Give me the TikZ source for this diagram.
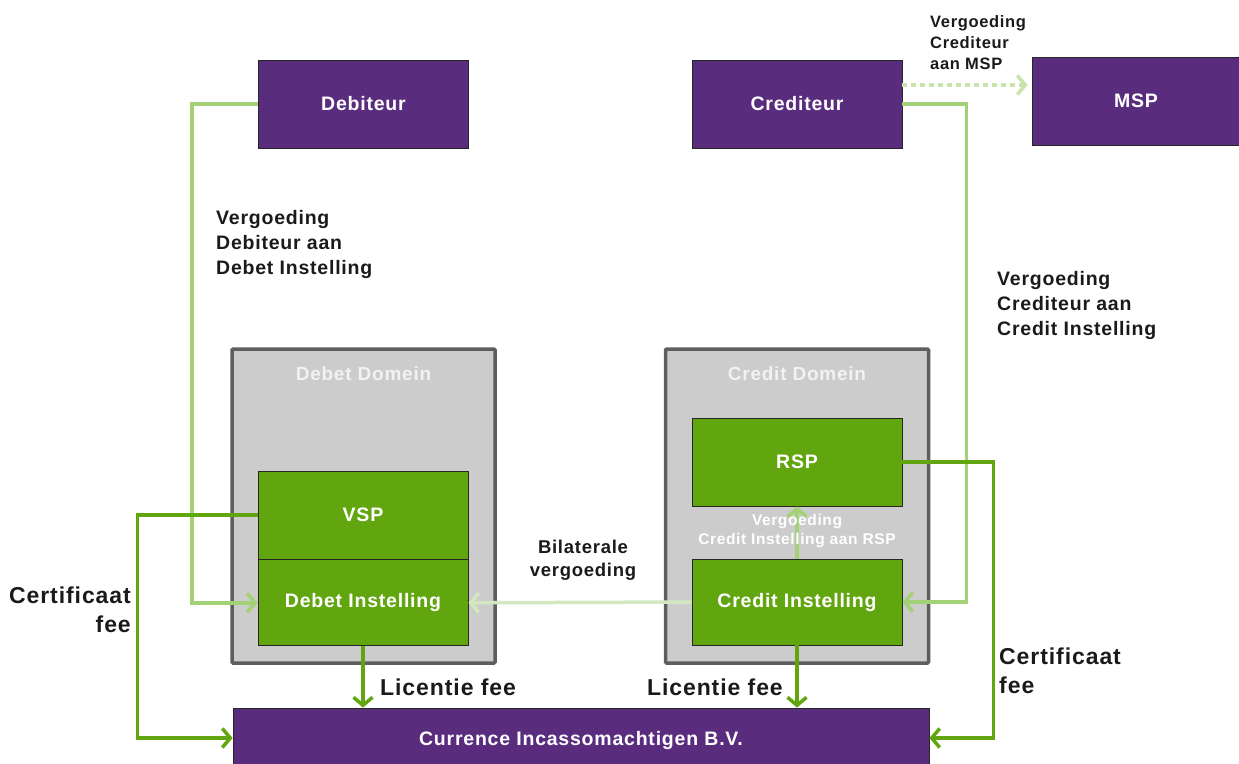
\documentclass[tikz,border=0pt]{standalone}
\usepackage{fontspec}
\setmainfont[LetterSpace=4.0]{Liberation Sans}
\usetikzlibrary{arrows.meta,positioning}
\definecolor{paars}{HTML}{5A2C7E}
\definecolor{donkergroen}{HTML}{62A60F}
\definecolor{lichtgroen}{HTML}{A3D176}
\definecolor{bleekgroen}{HTML}{D3E8C1}
\definecolor{stippelgroen}{HTML}{C9E3AD}
\definecolor{domeingrijs}{HTML}{CCCCCC}
\definecolor{randgrijs}{HTML}{5E5E5E}
\definecolor{tekst}{HTML}{1A1A1A}
\tikzset{
  partij/.style={draw=black!85, line width=0.8pt, fill=paars, text=white, inner sep=0pt,
    font=\bfseries\fontsize{19.5}{23}\selectfont, minimum width=210pt, minimum height=88pt},
  instelling/.style={partij, fill=donkergroen},
  domein/.style={draw=randgrijs, line width=3.5pt, fill=domeingrijs, rounded corners=1pt,
    minimum width=263pt, minimum height=314pt},
  domeinnaam/.style={text=white!95!black, inner sep=0pt, anchor=north,
    font=\bfseries\fontsize{19}{23}\selectfont},
  pijl/.style={line width=3.5pt, -{Straight Barb[length=8pt,width=19pt]}},
  licht/.style={pijl, draw=lichtgroen},
  donker/.style={pijl, draw=donkergroen},
  uitleg/.style={text=tekst, inner sep=0pt, font=\bfseries\fontsize{19.5}{25}\selectfont},
  groot/.style={text=tekst, inner sep=0pt, font=\bfseries\fontsize{23}{29}\selectfont}
}
\begin{document}
\begin{tikzpicture}[x=1pt,y=-1pt]
\useasboundingbox (0,0) rectangle (1239,763);
\node[domein] (debdom) at (363.5,506) {};
\node[domein] (creddom) at (797,506) {};
\node[domeinnaam] at (363.5,367) {Debet Domein};
\node[domeinnaam] at (797,367) {Credit Domein};
\node[partij] (deb) at (363.5,104) {Debiteur};
\node[partij] (cred) at (797,104) {Crediteur};
\node[partij, minimum width=214pt] (msp) at (1139,101) {\hspace*{-6pt}MSP};
\node[instelling] (vsp) at (363,515) {VSP};
\node[instelling, minimum height=86pt, below=0pt of vsp] (debinst) {Debet Instelling};
\node[instelling] (rsp) at (797,462) {RSP};
\node[instelling, minimum height=86pt] (credinst) at (797,602) {Credit Instelling};
\node[partij, minimum width=696pt, minimum height=64pt] (curr) at (581,740)
  {\raisebox{2pt}{\fontsize{19.5}{22}\selectfont Currence Incassomachtigen B.V.}};
\draw[licht] (deb.west) -- ++(-66,0) |- (debinst.west);
\draw[licht] (cred.east) -- ++(64,0) |- (credinst.east);
\draw[licht, draw=stippelgroen, dash pattern=on 5pt off 4pt, shorten >=4pt]
  ([yshift=19pt]cred.east) -- ([yshift=19pt]cred.east -| msp.west);
\draw[licht, draw=bleekgroen] (credinst.west) -- (debinst.east);
\draw[licht] (credinst.north) -- (rsp.south);
\draw[donker] (vsp.west) -- ++(-120,0) |- ([yshift=2pt]curr.west);
\draw[donker] (rsp.east) -- ++(91,0) |- ([yshift=2pt]curr.east);
\draw[donker] (debinst.south) -- (debinst.south |- curr.north);
\draw[donker] (credinst.south) -- (credinst.south |- curr.north);
\node[uitleg, anchor=north west, align=left] at (216,210) {Vergoeding\\Debiteur aan\\Debet Instelling};
\node[uitleg, anchor=north west, align=left] at (997,271) {Vergoeding\\Crediteur aan\\Credit Instelling};
\node[uitleg, anchor=north west, align=left, font=\bfseries\fontsize{16.5}{21}\selectfont]
  at (930,15) {Vergoeding\\Crediteur\\aan MSP};
\node[uitleg, anchor=north, align=center, font=\bfseries\fontsize{18.5}{23}\selectfont]
  at (583,540) {Bilaterale\\vergoeding};
\node[uitleg, anchor=north, align=center, text=white, font=\bfseries\fontsize{15.5}{19}\selectfont]
  at (797,514) {Vergoeding\\Credit Instelling aan RSP};
\node[groot, anchor=north east, align=right] at (131,587) {Certificaat\\fee};
\node[groot, anchor=north west, align=left] at (999,648) {Certificaat\\fee};
\node[groot, anchor=base west] at (380,695) {Licentie fee};
\node[groot, anchor=base east] at (783,695) {Licentie fee};
\end{tikzpicture}
\end{document}
